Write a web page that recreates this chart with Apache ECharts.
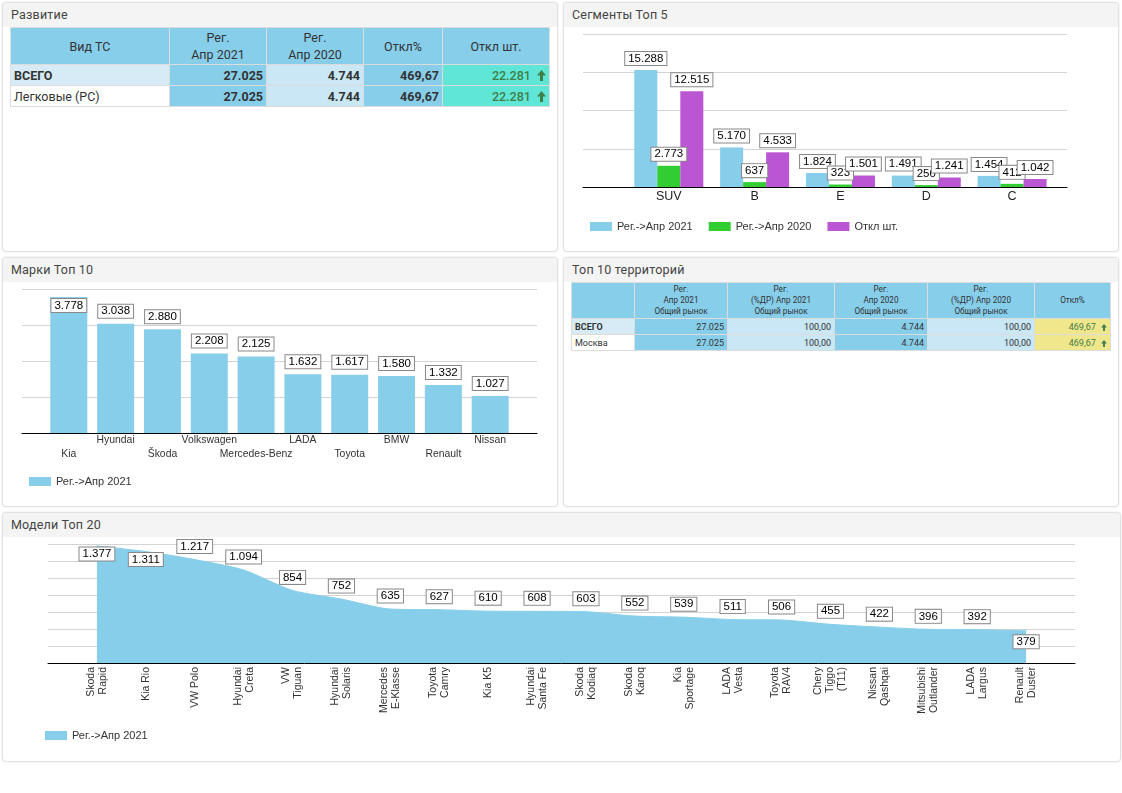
<!DOCTYPE html>
<html>
<head>
<meta charset="utf-8">
<title>Развитие</title>
<script src="https://cdn.jsdelivr.net/npm/echarts@6/dist/echarts.min.js"></script>
<style>
    html, body { margin: 0; padding: 0; background: #fff; }
    body { width: 1122px; height: 793px; position: relative; overflow: hidden; font-family: Roboto, sans-serif; color: #333; }
    .panel { position: absolute; box-sizing: border-box; background: #fff; border: 1px solid #e2e2e2; border-radius: 4px; box-shadow: 0 0 2px rgba(0,0,0,.12); }
    .header { height: 24px; line-height: 24px; padding-left: 8px; background: #f4f4f4; font-size: 12.5px; color: #444; letter-spacing: .2px; border-radius: 3px 3px 0 0; }
    .chart { position: absolute; left: 0; top: 24px; }
    table { position: absolute; border-collapse: collapse; table-layout: fixed; }
    td { border: 1px solid #dcdcdc; box-sizing: border-box; padding: 0 3px; white-space: nowrap; overflow: hidden; }
    .head { background: #87ceeb; text-align: center; }
    .name { text-align: left; }
    .num { text-align: right; }
    .sky { background: #87ceeb; }
    .pale { background: #c9e7f5; }
    .rowPale { background: #d6ebf5; }
    .up { color: #3f7f4a; }
    .teal { background: #60e6d6; }
    .khaki { background: #f0e68c; }
    #tblDev { left: 7px; top: 24px; width: 539px; font-size: 12.5px; }
    #tblDev .head { line-height: 17px; }
    #tblDev tr:nth-child(1) { height: 37px; }
    #tblDev tr { height: 21px; }
    #tblDev .num { font-weight: 700; }
    #tblDev .up { font-weight: 500; }
    #tblTerr { left: 7px; top: 24px; width: 539px; font-size: 9px; }
    #tblTerr .head { font-size: 8.2px; line-height: 11px; }
    #tblTerr tr:nth-child(1) { height: 36px; }
    #tblTerr tr { height: 16px; }
    .arrow { display: inline-block; vertical-align: -1px; margin-left: 3px; }
</style>
</head>
<body>
<div class="panel" style="left:2px;top:2px;width:556px;height:250px">
    <div class="header">Развитие</div>
    <table id="tblDev"></table>
</div>
<div class="panel" style="left:563px;top:2px;width:556px;height:250px">
    <div class="header">Сегменты Топ 5</div>
    <div class="chart" id="chartSeg" style="width:554px;height:224px"></div>
</div>
<div class="panel" style="left:2px;top:257px;width:556px;height:250px">
    <div class="header">Марки Топ 10</div>
    <div class="chart" id="chartBrand" style="width:554px;height:224px"></div>
</div>
<div class="panel" style="left:563px;top:257px;width:556px;height:250px">
    <div class="header">Топ 10 территорий</div>
    <table id="tblTerr"></table>
</div>
<div class="panel" style="left:2px;top:512px;width:1119px;height:250px">
    <div class="header">Модели Топ 20</div>
    <div class="chart" id="chartModel" style="width:1117px;height:224px"></div>
</div>

<script>
// development table
var devHead = ['Вид ТС', 'Рег.<br>Апр 2021', 'Рег.<br>Апр 2020', 'Откл%', 'Откл шт.'];
var devWidths = [159, 97, 97, 79, 107];
var devRows = [
    ['ВСЕГО', '27.025', '4.744', '469,67', '22.281'],
    ['Легковые (PC)', '27.025', '4.744', '469,67', '22.281']
];

// territories table
var terrHead = ['', 'Рег.<br>Апр 2021<br>Общий рынок', 'Рег.<br>(%ДР) Апр 2021<br>Общий рынок', 'Рег.<br>Апр 2020<br>Общий рынок', 'Рег.<br>(%ДР) Апр 2020<br>Общий рынок', 'Откл%'];
var terrWidths = [63, 93, 107, 93, 107, 76];
var terrRows = [
    ['ВСЕГО', '27.025', '100,00', '4.744', '100,00', '469,67'],
    ['Москва', '27.025', '100,00', '4.744', '100,00', '469,67']
];

// segments chart
var segCats = ['SUV', 'B', 'E', 'D', 'C'];
var segReg2021 = [15288, 5170, 1824, 1491, 1454];
var segReg2020 = [2773, 637, 323, 250, 412];
var segDiff = [12515, 4533, 1501, 1241, 1042];

// brands chart
var brandCats = ['Kia', 'Hyundai', 'Škoda', 'Volkswagen', 'Mercedes-Benz', 'LADA', 'Toyota', 'BMW', 'Renault', 'Nissan'];
var brandReg2021 = [3778, 3038, 2880, 2208, 2125, 1632, 1617, 1580, 1332, 1027];

// models chart
var modelCats = ['Skoda\nRapid', 'Kia Rio', 'VW Polo', 'Hyundai\nCreta', 'VW\nTiguan', 'Hyundai\nSolaris', 'Mercedes\nE-Klasse', 'Toyota\nCamry', 'Kia K5', 'Hyundai\nSanta Fe',
    'Skoda\nKodiaq', 'Skoda\nKaroq', 'Kia\nSportage', 'LADA\nVesta', 'Toyota\nRAV4', 'Chery\nTiggo\n(T11)', 'Nissan\nQashqai', 'Mitsubishi\nOutlander', 'LADA\nLargus', 'Renault\nDuster'];
var modelReg2021 = [1377, 1311, 1217, 1094, 854, 752, 635, 627, 610, 608, 603, 552, 539, 511, 506, 455, 422, 396, 392, 379];

var SKY = '#87ceeb', GREEN = '#32cd32', ORCHID = '#ba55d3';
var FONT = '"Liberation Sans", Arial, sans-serif';
var ARROW = '<svg class="arrow" width="9" height="11" viewBox="0 0 9 11"><path d="M4.5 0L9 5.5H6V11H3V5.5H0z" fill="#3f7f4a"/></svg>';
var ARROW_SMALL = '<svg class="arrow" width="6" height="7" viewBox="0 0 9 11"><path d="M4.5 0L9 5.5H6V11H3V5.5H0z" fill="#3f7f4a"/></svg>';

function fmt(v) {
    return String(v).replace(/\B(?=(\d{3})+$)/g, '.');
}

function colgroup(widths) {
    return '<colgroup>' + widths.map(function (w) { return '<col style="width:' + w + 'px">'; }).join('') + '</colgroup>';
}

function buildDevTable() {
    var html = colgroup(devWidths) + '<tr>' + devHead.map(function (h) { return '<td class="head">' + h + '</td>'; }).join('') + '</tr>';
    devRows.forEach(function (r, i) {
        html += '<tr>'
            + '<td class="name' + (i === 0 ? ' rowPale' : '') + '"' + (i === 0 ? ' style="font-weight:700"' : '') + '>' + r[0] + '</td>'
            + '<td class="num sky">' + r[1] + '</td>'
            + '<td class="num pale">' + r[2] + '</td>'
            + '<td class="num sky">' + r[3] + '</td>'
            + '<td class="num teal up">' + r[4] + ' ' + ARROW + '</td>'
            + '</tr>';
    });
    document.getElementById('tblDev').innerHTML = html;
}

function buildTerrTable() {
    var html = colgroup(terrWidths) + '<tr>' + terrHead.map(function (h) { return '<td class="head">' + h + '</td>'; }).join('') + '</tr>';
    terrRows.forEach(function (r, i) {
        html += '<tr>'
            + '<td class="name' + (i === 0 ? ' rowPale' : '') + '"' + (i === 0 ? ' style="font-weight:700"' : '') + '>' + r[0] + '</td>'
            + '<td class="num sky">' + r[1] + '</td>'
            + '<td class="num pale">' + r[2] + '</td>'
            + '<td class="num sky">' + r[3] + '</td>'
            + '<td class="num pale">' + r[4] + '</td>'
            + '<td class="num khaki up">' + r[5] + ' ' + ARROW_SMALL + '</td>'
            + '</tr>';
    });
    document.getElementById('tblTerr').innerHTML = html;
}

// same boxed value label everywhere
function boxLabel(distance) {
    return {
        show: true,
        position: 'top',
        distance: distance,
        fontFamily: FONT,
        fontSize: 11.5,
        lineHeight: 11,
        color: '#000',
        backgroundColor: '#fff',
        borderColor: '#888',
        borderWidth: 1,
        padding: [1, 3, 1, 3],
        formatter: function (p) { return fmt(p.value[1]); }
    };
}

function yAxis(max, interval) {
    return {
        type: 'value',
        min: 0,
        max: max,
        interval: interval,
        axisLabel: { show: false },
        axisLine: { show: false },
        axisTick: { show: false },
        splitLine: { lineStyle: { color: '#d3d3d3', width: 1 } }
    };
}

function xAxis(max, label) {
    return {
        type: 'value',
        min: -1,
        max: max,
        interval: 1,
        axisLine: { lineStyle: { color: '#000', width: 1 } },
        axisTick: { show: false },
        splitLine: { show: false },
        axisLabel: label
    };
}

function legend(names, left, top) {
    return {
        left: left,
        top: top,
        data: names,
        icon: 'rect',
        itemWidth: 22,
        itemHeight: 9,
        itemGap: 16,
        textStyle: { fontFamily: FONT, fontSize: 11, color: '#333' }
    };
}

function pairs(values) {
    return values.map(function (v, i) { return [i, v]; });
}

function showSegments() {
    var myChart = echarts.init(document.getElementById('chartSeg'));
    var names = ['Рег.->Апр 2021', 'Рег.->Апр 2020', 'Откл шт.'];
    var option = {
        animation: false,
        grid: { left: 19, top: 7, width: 484, height: 153 },
        legend: legend(names, 21, 189),
        xAxis: xAxis(4.64, {
            fontFamily: FONT,
            fontSize: 12.5,
            color: '#222',
            margin: 3,
            formatter: function (v) { return segCats[v] || ''; }
        }),
        yAxis: yAxis(20000, 5000),
        series: [
            { name: names[0], type: 'bar', barWidth: 23, barGap: 0, itemStyle: { color: SKY }, label: boxLabel(5), data: pairs(segReg2021) },
            { name: names[1], type: 'bar', barWidth: 23, barGap: 0, itemStyle: { color: GREEN }, label: boxLabel(5), data: pairs(segReg2020) },
            { name: names[2], type: 'bar', barWidth: 23, barGap: 0, itemStyle: { color: ORCHID }, label: boxLabel(5), data: pairs(segDiff) }
        ]
    };
    myChart.setOption(option);
}

function showBrands() {
    var myChart = echarts.init(document.getElementById('chartBrand'));
    var name = 'Рег.->Апр 2021';
    var data = pairs(brandReg2021).map(function (d, i) {
        // first label sits inside the bar
        return i === 0 ? { value: d, label: { position: 'insideTop', distance: 2 } } : { value: d };
    });
    var option = {
        animation: false,
        grid: { left: 19, top: 7, width: 515, height: 144 },
        legend: legend([name], 21, 189),
        xAxis: xAxis(10, {
            fontFamily: FONT,
            fontSize: 10.4,
            lineHeight: 14,
            color: '#333',
            margin: 0,
            // two staggered rows, odd ones up
            formatter: function (v) {
                var t = brandCats[v];
                if (!t) return '';
                return v % 2 === 0 ? '\n' + t : t + '\n';
            }
        }),
        yAxis: yAxis(4000, 1000),
        series: [
            { name: name, type: 'bar', barWidth: 37, itemStyle: { color: SKY }, label: boxLabel(6), data: data }
        ]
    };
    myChart.setOption(option);
}

function showModels() {
    var myChart = echarts.init(document.getElementById('chartModel'));
    var name = 'Рег.->Апр 2021';
    var below = { 0: 1, 1: 1, 19: 4 };
    var data = pairs(modelReg2021).map(function (d, i) {
        return below[i] !== undefined ? { value: d, label: { position: 'bottom', distance: below[i] } } : { value: d };
    });
    var option = {
        animation: false,
        grid: { left: 45, top: 7, width: 1027, height: 119 },
        legend: legend([name], 37, 188),
        xAxis: xAxis(20, {
            fontFamily: FONT,
            fontSize: 10.5,
            lineHeight: 12,
            color: '#333',
            rotate: 90,
            margin: 4,
            formatter: function (v) { return modelCats[v] || ''; }
        }),
        yAxis: yAxis(1400, 200),
        series: [
            {
                name: name,
                type: 'line',
                smooth: 0.25,
                symbol: 'circle',
                symbolSize: 1,
                itemStyle: { color: SKY },
                lineStyle: { color: SKY, width: 1 },
                areaStyle: { color: SKY, opacity: 1 },
                label: boxLabel(6),
                data: data
            }
        ]
    };
    myChart.setOption(option);
}

buildDevTable();
buildTerrTable();
showSegments();
showBrands();
showModels();
</script>
</body>
</html>
